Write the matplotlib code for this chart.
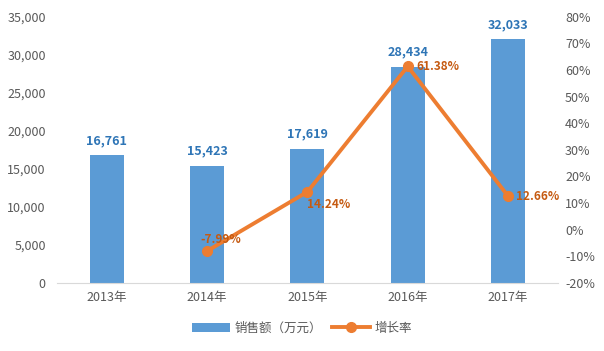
import matplotlib
matplotlib.use("Agg")
import matplotlib.pyplot as plt
from matplotlib.ticker import FuncFormatter, MultipleLocator

plt.rcParams['font.family'] = ['Noto Sans CJK SC', 'DejaVu Sans']

years = ['2013年', '2014年', '2015年', '2016年', '2017年']
sales = [16761, 15423, 17619, 28434, 32033]
growth_years = [1, 2, 3, 4]
growth = [-7.99, 14.24, 61.38, 12.66]

blue = '#5B9BD5'
orange = '#ED7D31'
gray = '#595959'

fig = plt.figure(figsize=(6.04, 3.51), dpi=100)
ax = fig.add_axes([0.094, 0.194, 0.83, 0.758])
x = list(range(len(years)))
bars = ax.bar(x, sales, width=0.34, color=blue, label='销售额（万元）', zorder=2)
ax.set_ylim(0, 35000)
ax.set_xlim(-0.5, 4.5)
ax.yaxis.set_major_locator(MultipleLocator(5000))
ax.yaxis.set_major_formatter(FuncFormatter(lambda v, p: f'{int(v):,}'))
ax.set_xticks(x)
ax.set_xticklabels(years)
for s in ['top', 'right', 'left']:
    ax.spines[s].set_visible(False)
ax.spines['bottom'].set_color('#D9D9D9')
ax.tick_params(axis='both', length=0, colors=gray, labelsize=9)
ax.tick_params(axis='x', pad=6)
ax.tick_params(axis='y', pad=8)
for xi, v in zip(x, sales):
    ax.annotate(f'{v:,}', (xi, v), xytext=(0, 6), textcoords='offset points',
                ha='center', va='bottom', color='#2E75B6', fontsize=9, fontweight='bold')

ax2 = ax.twinx()
line, = ax2.plot(growth_years, growth, color=orange, lw=2.8, marker='o', ms=7,
                 label='增长率', zorder=3)
ax2.set_ylim(-20, 80)
ax2.yaxis.set_major_locator(MultipleLocator(10))
ax2.yaxis.set_major_formatter(FuncFormatter(lambda v, p: f'{int(round(v))}%'))
for s in ['top', 'right', 'left', 'bottom']:
    ax2.spines[s].set_visible(False)
ax2.tick_params(axis='y', length=0, colors=gray, labelsize=9, pad=5)
offsets = [(-5, 8), (0, -9), (6, 0), (6, 0)]
for xi, v, off in zip(growth_years, growth, offsets):
    ax2.annotate(f'{v:.2f}%', (xi, v), xytext=off, textcoords='offset points',
                 ha='left', va='center', color='#C55A11', fontsize=8.5, fontweight='bold')

fig.legend([bars, line], ['销售额（万元）', '增长率'], loc='center', bbox_to_anchor=(0.5, 0.065),
           ncol=2, frameon=False, fontsize=9, labelcolor=gray, handlelength=3, columnspacing=0.8,
           handletextpad=0.4)

fig.savefig('out.png', dpi=100)
